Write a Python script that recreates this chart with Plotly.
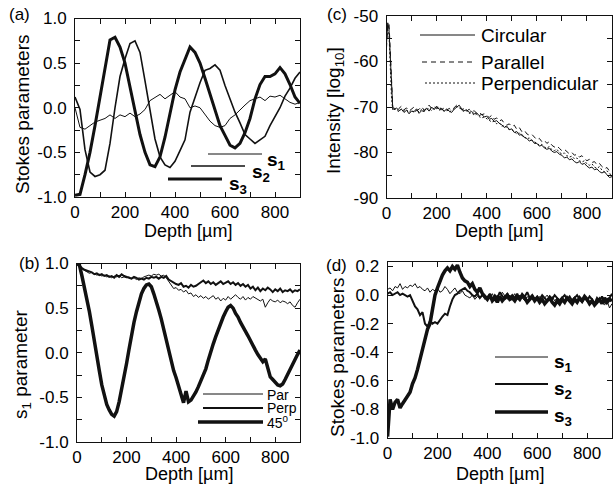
import plotly.graph_objects as go

W, H = 613, 487
FONT = "Liberation Sans"
INK = "#111111"

# ---------------- Panel (a): Stokes parameters, circular input ----------------
depth_a = list(range(0, 901, 20))
a_s1 = [0.0, -0.22, -0.24, -0.2, -0.16, -0.14, -0.12, -0.08, -0.12, -0.08,
        -0.1, -0.06, -0.1, -0.07, -0.02, 0.08, 0.12, 0.15, 0.1, 0.14,
        0.18, 0.12, 0.1, 0.0, 0.02, 0.0, -0.08, -0.15, -0.2, -0.22,
        -0.2, -0.12, -0.08, -0.02, 0.03, 0.08, 0.1, 0.12, 0.08, 0.13,
        0.12, 0.14, 0.1, 0.06, 0.04, 0.06]
a_s2 = [0.12, -0.02, -0.47, -0.72, -0.77, -0.75, -0.7, -0.4, 0.0, 0.35,
        0.55, 0.72, 0.75, 0.62, 0.3, -0.05, -0.35, -0.55, -0.64, -0.67,
        -0.6, -0.48, -0.36, -0.05, 0.12, 0.28, 0.42, 0.44, 0.48, 0.42,
        0.25, 0.1, -0.05, -0.17, -0.3, -0.35, -0.4, -0.36, -0.32, -0.2,
        -0.1, 0.0, 0.13, 0.22, 0.33, 0.4]
a_s3 = [-0.98, -0.97, -0.75, -0.5, -0.2, 0.12, 0.48, 0.76, 0.79, 0.68,
        0.5, 0.22, -0.04, -0.3, -0.5, -0.64, -0.66, -0.55, -0.33, -0.08,
        0.2, 0.4, 0.54, 0.68, 0.62, 0.5, 0.33, 0.16, -0.02, -0.2,
        -0.31, -0.42, -0.45, -0.4, -0.28, -0.12, 0.1, 0.26, 0.35, 0.35,
        0.38, 0.45, 0.38, 0.26, 0.12, 0.05]

# ---------------- Panel (c): intensity ----------------
depth_c = [0, 5, 10, 15, 20, 25] + list(range(30, 901, 10))
c_circular = [-56, -51.5, -53, -60, -67, -70.3,
              -70.6, -70.2, -70.8, -70.5, -71.2, -70.7, -71.5,
              -70.9, -71.0, -70.4, -71.4, -70.8, -71.0, -70.2, -70.9, -70.0, -70.6,
              -69.8, -70.5, -70.3, -71.0, -70.4, -70.9, -71.2, -70.5, -70.0, -69.6,
              -70.4, -70.8, -70.6, -71.2, -71.0, -71.5, -71.3, -71.9, -71.6, -72.2,
              -72.0, -72.7, -72.5, -73.2, -73.0, -73.6, -73.9, -74.5, -74.2, -75.0,
              -74.8, -75.6, -75.4, -76.2, -76.0, -76.7, -76.9, -77.5, -77.2, -78.0,
              -78.0, -78.6, -78.4, -79.0, -79.3, -79.1, -79.7, -80.0, -79.8, -80.4,
              -80.6, -81.2, -81.0, -81.6, -81.4, -82.0, -82.3, -82.0, -82.6, -82.4,
              -83.0, -83.4, -83.2, -83.8, -83.6, -84.2, -84.5, -84.2, -84.9, -85.5,
              -85.3]
c_parallel = [-57, -52, -51.5, -58, -66, -70.0,
              -70.4, -70.9, -70.3, -69.8, -70.6, -70.2, -70.9,
              -70.5, -70.0, -70.8, -70.5, -69.9, -70.7, -70.4, -69.6, -70.3, -69.9,
              -70.4, -69.7, -70.6, -70.2, -70.8, -70.3, -70.7, -70.1, -69.6, -69.9,
              -70.6, -70.3, -70.9, -70.5, -71.1, -70.8, -71.4, -71.1, -71.7, -71.5,
              -71.9, -72.3, -71.8, -72.7, -72.4, -73.1, -72.8, -73.6, -74.0, -73.7,
              -74.3, -74.0, -74.9, -74.5, -75.4, -75.1, -75.9, -76.2, -76.0, -76.7,
              -77.2, -76.9, -77.6, -77.3, -78.0, -77.6, -78.4, -78.8, -78.5, -79.1,
              -79.6, -79.3, -79.9, -80.3, -80.0, -80.6, -80.4, -81.0, -80.7, -81.4,
              -81.8, -81.5, -82.2, -82.0, -82.7, -82.4, -83.1, -83.6, -83.3, -84.1,
              -84.4]
c_perpendicular = [-55, -53, -54, -61, -68, -70.6,
                   -70.2, -70.7, -71.0, -70.4, -70.9, -70.6, -71.2,
                   -70.7, -71.3, -70.6, -71.1, -70.5, -70.9, -70.6, -70.3, -70.8, -70.2,
                   -70.1, -70.7, -70.5, -70.8, -70.6, -71.1, -70.8, -70.3, -69.9, -70.1,
                   -70.7, -71.0, -70.8, -71.4, -71.3, -71.8, -71.6, -72.1, -72.4, -72.2,
                   -72.6, -72.9, -73.3, -73.1, -73.7, -73.5, -74.2, -74.0, -74.6, -74.9,
                   -75.0, -75.4, -75.9, -75.7, -76.3, -76.5, -77.0, -76.8, -77.4, -77.7,
                   -77.9, -78.4, -78.2, -78.8, -79.0, -78.7, -79.4, -79.6, -79.3, -80.0,
                   -80.3, -80.1, -80.7, -81.0, -80.8, -81.4, -81.2, -81.8, -82.1, -81.8,
                   -82.5, -82.8, -82.5, -83.2, -83.5, -83.1, -83.9, -84.3, -84.0, -84.7,
                   -84.9]

# ---------------- Panel (b): s1 parameter ----------------
depth_b = list(range(0, 901, 10))
b_par = [1.0, 0.96, 0.94, 0.92, 0.91, 0.89, 0.9, 0.88, 0.87, 0.88,
         0.86, 0.87, 0.85, 0.86, 0.84, 0.86, 0.85, 0.87, 0.84, 0.85,
         0.84, 0.85, 0.83, 0.84, 0.82, 0.84, 0.83, 0.85, 0.86, 0.87,
         0.86, 0.88, 0.87, 0.88, 0.86, 0.87, 0.84, 0.8, 0.76, 0.72,
         0.73, 0.7, 0.71, 0.68, 0.7, 0.66, 0.67, 0.63, 0.65, 0.62,
         0.64, 0.61, 0.63, 0.6, 0.62, 0.64, 0.6, 0.62, 0.58, 0.61,
         0.59, 0.63, 0.6, 0.62, 0.65, 0.62, 0.6, 0.63, 0.59, 0.62,
         0.6, 0.63, 0.61, 0.6, 0.58, 0.6, 0.51, 0.56, 0.6, 0.58,
         0.57, 0.59, 0.56, 0.58, 0.57, 0.55, 0.57, 0.53, 0.51, 0.56,
         0.6]
b_perp = [1.0, 0.97, 0.95, 0.93, 0.92, 0.91, 0.9, 0.88, 0.89, 0.87,
          0.88, 0.86, 0.87, 0.85, 0.86, 0.84, 0.87, 0.85, 0.88, 0.86,
          0.85, 0.84, 0.83, 0.85, 0.84, 0.82, 0.83, 0.82, 0.84, 0.83,
          0.85, 0.84, 0.85, 0.83, 0.85, 0.84, 0.86, 0.82, 0.8, 0.79,
          0.77, 0.76, 0.78, 0.74, 0.75, 0.73, 0.76, 0.74, 0.75, 0.77,
          0.79, 0.81, 0.78, 0.8, 0.77, 0.79, 0.76, 0.78, 0.8, 0.77,
          0.79, 0.8, 0.77, 0.79, 0.76, 0.78, 0.75, 0.77, 0.74, 0.76,
          0.72, 0.74, 0.7, 0.73, 0.69, 0.72, 0.7, 0.73, 0.71, 0.68,
          0.71, 0.69, 0.72, 0.68, 0.7, 0.69, 0.71, 0.68, 0.7, 0.69,
          0.71]
b_45 = [1.0, 0.98, 0.86, 0.74, 0.6, 0.46, 0.3, 0.15, -0.03, -0.2,
        -0.36, -0.48, -0.58, -0.64, -0.69, -0.71, -0.66, -0.55, -0.42, -0.28,
        -0.12, 0.04, 0.2, 0.34, 0.46, 0.58, 0.66, 0.72, 0.76, 0.77,
        0.74, 0.66, 0.58, 0.48, 0.38, 0.26, 0.14, 0.02, -0.1, -0.2,
        -0.28, -0.38, -0.47, -0.56, -0.43, -0.55, -0.53, -0.49, -0.44, -0.38,
        -0.32, -0.25, -0.18, -0.08, 0.02, 0.1, 0.18, 0.26, 0.33, 0.4,
        0.46, 0.51, 0.53, 0.5, 0.44, 0.4, 0.34, 0.28, 0.24, 0.19,
        0.13, 0.08, 0.03, -0.02, -0.06, -0.1, -0.07, -0.17, -0.27, -0.3,
        -0.33, -0.36, -0.37, -0.35, -0.3, -0.24, -0.18, -0.13, -0.08, -0.02,
        0.03]

# ---------------- Panel (d): Stokes parameters, linear input ----------------
depth_d = list(range(0, 901, 10))
d_s1 = [0.04, 0.05, 0.03, 0.06, 0.05, 0.08, 0.04, 0.06, 0.05, 0.07,
        0.06, 0.08, 0.05, 0.06, 0.04, 0.03, 0.05, 0.02, 0.04, 0.03,
        0.05, 0.02, 0.03, 0.06, 0.04, 0.01, 0.03, 0.05, 0.02, 0.01,
        0.03, 0.0, -0.01, -0.02, 0.0, -0.03, -0.01, -0.02, 0.0, -0.03,
        -0.01, -0.02, 0.01, -0.03, 0.0, -0.02, 0.02, -0.01, -0.03, 0.0,
        -0.02, 0.01, -0.03, 0.0, -0.02, -0.04, -0.01, -0.03, 0.0, -0.02,
        -0.03, -0.01, -0.04, -0.02, 0.0, -0.03, -0.01, -0.04, -0.02, -0.03,
        -0.01, -0.04, -0.02, -0.05, -0.03, -0.01, -0.04, -0.02, -0.05, -0.03,
        -0.02, -0.05, -0.03, -0.06, -0.04, -0.02, -0.05, -0.07, -0.04, -0.09,
        -0.06]
d_s2 = [0.01, 0.02, 0.0, 0.01, 0.02, 0.0, 0.01, 0.0, -0.01, 0.0,
        -0.04, -0.08, -0.1, -0.14, -0.12, -0.2, -0.22, -0.18, -0.2, -0.19,
        -0.2, -0.17, -0.15, -0.13, -0.14, -0.08, -0.03, 0.0, 0.01, 0.03,
        0.04, 0.05, 0.03, 0.02, 0.0, -0.01, 0.01, -0.02, 0.0, -0.01,
        -0.02, 0.01, -0.03, 0.0, -0.02, 0.02, -0.01, -0.03, 0.01, -0.02,
        0.0, -0.02, 0.01, -0.03, 0.0, -0.01, 0.02, -0.02, 0.0, -0.03,
        -0.01, -0.03, 0.0, -0.02, -0.04, -0.01, -0.03, 0.0, -0.02, -0.04,
        -0.02, 0.0, -0.03, -0.01, -0.04, -0.02, 0.0, -0.03, -0.05, -0.02,
        -0.04, -0.01, -0.03, -0.06, -0.02, -0.04, -0.01, -0.05, -0.03, -0.02,
        0.01]
d_s3 = [-0.99, -0.73, -0.8, -0.75, -0.73, -0.79, -0.76, -0.73, -0.7, -0.68,
        -0.62, -0.58, -0.52, -0.45, -0.36, -0.29, -0.24, -0.2, -0.1, 0.0,
        0.05, 0.1, 0.14, 0.17, 0.19, 0.17, 0.2, 0.18, 0.21, 0.16,
        0.12, 0.1, 0.09, 0.06, 0.08, 0.04, 0.02, 0.05, 0.01, -0.01,
        -0.03, 0.0, -0.04, -0.02, -0.05, -0.01, -0.04, -0.02, 0.0, -0.03,
        -0.02, -0.04, -0.01, -0.03, 0.0, -0.02, -0.05, -0.03, -0.01, -0.04,
        -0.02, -0.05, -0.03, -0.06, -0.04, -0.02, -0.05, -0.07, -0.04, -0.06,
        -0.03, -0.05, -0.02, -0.04, -0.06, -0.03, -0.05, -0.02, -0.04, -0.01,
        -0.03, -0.06, -0.04, -0.07, -0.05, -0.03, -0.06, -0.02, -0.05, -0.03,
        -0.04]

# ---------------- tick labels ----------------
depth_ticks = [0, 200, 400, 600, 800]
depth_ticktext = ["0", "200", "400", "600", "800"]
unit_ticks = [-1.0, -0.5, 0.0, 0.5, 1.0]
unit_ticktext = ["-1.0", "-0.5", "0.0", "0.5", "1.0"]
int_ticks = [-90, -80, -70, -60, -50]
int_ticktext = ["-90", "-80", "-70", "-60", "-50"]
d_ticks = [-1.0, -0.8, -0.6, -0.4, -0.2, 0.0, 0.2]
d_ticktext = ["-1.0", "-0.8", "-0.6", "-0.4", "-0.2", "0.0", "0.2"]

fig = go.Figure()


def line(x, y, xa, ya, w, dash="solid"):
    fig.add_trace(go.Scatter(x=x, y=y, xaxis=xa, yaxis=ya, mode="lines",
                             line=dict(color=INK, width=w, dash=dash),
                             showlegend=False, hoverinfo="skip"))


line(depth_a, a_s1, "x", "y", 1)
line(depth_a, a_s2, "x", "y", 1.6)
line(depth_a, a_s3, "x", "y", 3)

line(depth_c, c_circular, "x2", "y2", 1)
line(depth_c, c_parallel, "x2", "y2", 1, "5px,4px")
line(depth_c, c_perpendicular, "x2", "y2", 1, "2px,2px")

line(depth_b, b_par, "x3", "y3", 1)
line(depth_b, b_perp, "x3", "y3", 2)
line(depth_b, b_45, "x3", "y3", 3.5)

line(depth_d, d_s1, "x4", "y4", 1)
line(depth_d, d_s2, "x4", "y4", 2)
line(depth_d, d_s3, "x4", "y4", 3.5)


def px(v):
    return v / W


def py(v):
    return 1 - v / H


def xax(x0, x1, anchor):
    return dict(domain=[px(x0), px(x1)], anchor=anchor, range=[0, 900],
                tickmode="array", tickvals=depth_ticks, ticktext=depth_ticktext,
                minor=dict(dtick=100, tick0=0, ticks="inside", ticklen=5,
                           tickcolor=INK, tickwidth=1),
                showline=True, linecolor=INK, linewidth=1, mirror="allticks",
                ticks="inside", ticklen=5, tickwidth=1, tickcolor=INK,
                showgrid=False, zeroline=False, automargin=False,
                tickfont=dict(family=FONT, size=17, color="#000"))


def yax(y0, y1, anchor, rng, tv, tt, minor_dtick=None):
    d = dict(domain=[py(y1), py(y0)], anchor=anchor, range=rng,
             tickmode="array", tickvals=tv, ticktext=tt,
             showline=True, linecolor=INK, linewidth=1, mirror="allticks",
             ticks="inside", ticklen=5, tickwidth=1, tickcolor=INK,
             showgrid=False, zeroline=False, ticklabelstandoff=4, automargin=False,
             tickfont=dict(family=FONT, size=17, color="#000"))
    if minor_dtick:
        d["minor"] = dict(dtick=minor_dtick, tick0=0, ticks="inside", ticklen=5,
                          tickcolor=INK, tickwidth=1)
    return d


layout = dict(
    width=W, height=H, autosize=False,
    margin=dict(l=0, r=0, t=0, b=0, pad=0, autoexpand=False),
    paper_bgcolor="white", plot_bgcolor="white",
    font=dict(family=FONT, color="#000"),
    xaxis=xax(75, 300, "y"),
    yaxis=yax(18.5, 197, "x", [-1.0, 1.0], unit_ticks, unit_ticktext, 0.25),
    xaxis2=xax(386.5, 612, "y2"),
    yaxis2=yax(16, 198, "x2", [-90, -50], int_ticks, int_ticktext, 5),
    xaxis3=xax(77, 300, "y3"),
    yaxis3=yax(263.5, 442, "x3", [-1.0, 1.0], unit_ticks, unit_ticktext, 0.25),
    xaxis4=xax(387.6, 612, "y4"),
    yaxis4=yax(261.5, 438, "x4", [-1.0, 0.235], d_ticks, d_ticktext),
)
fig.update_layout(**layout)

ann = []


def text(x, y, s, size=17, angle=0, xanchor="center", bold=False):
    if bold:
        s = "<b>" + s + "</b>"
    ann.append(dict(x=px(x), y=py(y), xref="paper", yref="paper", text=s,
                    showarrow=False, xanchor=xanchor, yanchor="middle",
                    textangle=angle, font=dict(family=FONT, size=size, color="#000")))


# panel letters
text(19.5, 15, "(a)")
text(337, 15, "(c)")
text(29, 263, "(b)")
text(336, 265, "(d)")

# axis titles
text(22, 115, "Stokes parameters", 19, -90)
text(335, 111, "Intensity [log<sub>10</sub>]", 19, -90)
text(22, 365, "s<sub>1</sub> parameter", 19, -90)
text(337, 358, "Stokes parameters", 19, -90)
text(187.5, 231, "Depth [µm]", 18)
text(499, 231, "Depth [µm]", 18)
text(188.5, 474, "Depth [µm]", 18)
text(500, 474, "Depth [µm]", 18)

shapes = []


def seg(x0, x1, y, w, dash="solid"):
    shapes.append(dict(type="line", xref="paper", yref="paper",
                       x0=px(x0), x1=px(x1), y0=py(y), y1=py(y),
                       line=dict(color=INK, width=w, dash=dash)))


# legend (a)
seg(208, 262, 154, 1)
seg(191, 245, 166, 1.6)
seg(168, 222, 179, 3)
text(265, 161, "s<sub>1</sub>", 19, xanchor="left", bold=True)
text(250, 173, "s<sub>2</sub>", 19, xanchor="left", bold=True)
text(227, 185, "s<sub>3</sub>", 19, xanchor="left", bold=True)

# legend (c)
seg(420, 475, 35, 1)
seg(422, 475, 62, 1, "5px,4px")
seg(425, 475, 83, 1, "2px,2px")
text(479, 35, "Circular", 19, xanchor="left")
text(479, 62, "Parallel", 19, xanchor="left")
text(479, 83, "Perpendicular", 19, xanchor="left")

# legend (b)
seg(203, 263, 394, 1)
seg(203, 263, 408, 2)
seg(198, 263, 422, 3.5)
text(265, 395, "Par", 14, xanchor="left")
text(265, 408, "Perp", 14, xanchor="left")
text(265, 422, "45<sup>0</sup>", 14, xanchor="left")

# legend (d)
seg(495, 548, 357, 1)
seg(495, 548, 384, 2)
seg(495, 548, 412, 3.5)
text(552, 363, "s<sub>1</sub>", 19, xanchor="left", bold=True)
text(552, 390, "s<sub>2</sub>", 19, xanchor="left", bold=True)
text(552, 417, "s<sub>3</sub>", 19, xanchor="left", bold=True)

fig.update_layout(annotations=ann, shapes=shapes)
fig.write_html("out.html", config={"displayModeBar": False, "staticPlot": True},
               post_script="document.body.style.margin='0';document.body.style.overflow='hidden';")
